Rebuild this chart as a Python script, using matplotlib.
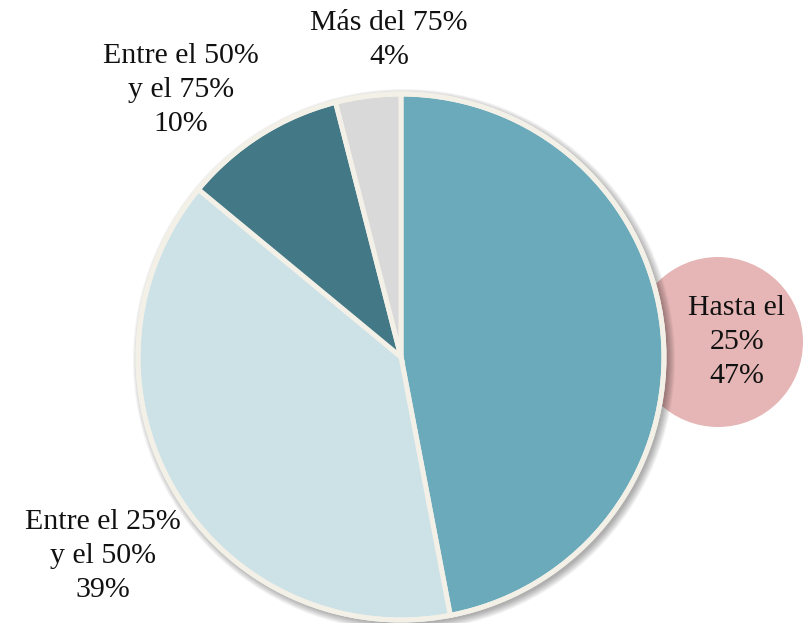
import matplotlib
matplotlib.use("Agg")
import matplotlib.pyplot as plt
from matplotlib.patches import Circle

labels = ["Hasta el\n25%", "Entre el 25%\ny el 50%", "Entre el 50%\ny el 75%", "Más del 75%"]
values = [47, 39, 10, 4]
colors = ["#6aaabb", "#cde2e7", "#437886", "#d9d9d9"]

W, H = 804, 623
fig = plt.figure(figsize=(W / 100, H / 100), dpi=100)
ax = fig.add_axes([0, 0, 1, 1])

cx, cy, r = 401, H - 357, 263

# highlight bubble behind the largest slice
ax.add_patch(Circle((718, H - 342), 85, facecolor="#e6b5b5", edgecolor="none", zorder=1))

# soft drop shadow, offset down and to the right
for k in range(1, 9):
    ax.add_patch(Circle((cx + 3, cy - 3), r + k, facecolor="black",
                        edgecolor="none", alpha=0.045, zorder=2))

wedges, _ = ax.pie(values, colors=colors, startangle=90, counterclock=False,
                   center=(cx, cy), radius=r, frame=True,
                   wedgeprops=dict(edgecolor="#f3f0e7", linewidth=3.6))
for w in wedges:
    w.set_zorder(3)
ax.add_patch(Circle((cx, cy), r, facecolor="none", edgecolor="#f3f0e7", linewidth=3.6, zorder=4))
ax.set_xlim(0, W)
ax.set_ylim(0, H)
ax.set_aspect("equal")
ax.axis("off")

font = dict(family="Liberation Serif", fontsize=21.5, color="#111111",
            ha="center", va="center", linespacing=1.38, zorder=6)
positions = [(737, H - 342), (103, H - 556), (181, H - 90), (389, H - 40)]
for lab, v, (x, y) in zip(labels, values, positions):
    ax.text(x, y, f"{lab}\n{v}%", **font)

fig.savefig("out.png", dpi=100)
